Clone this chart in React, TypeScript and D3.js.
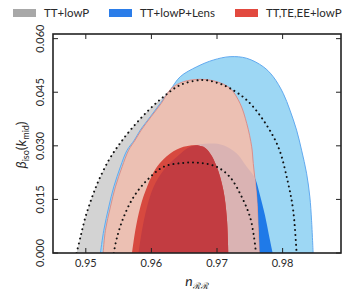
import React, { useEffect, useRef } from "react";
import * as d3 from "d3";

type Pt = [number, number];

// contours: [n_RR, beta_iso]
const ttLowP95: Pt[] = [
  [0.94859, 0], [0.94919, 0.00449], [0.94995, 0.01009], [0.95097, 0.0157],
  [0.95198, 0.02038], [0.9535, 0.02599], [0.95502, 0.03019], [0.95679, 0.0344],
  [0.95933, 0.03953], [0.96185, 0.04373], [0.96439, 0.04701], [0.96769, 0.04842],
  [0.96997, 0.04766], [0.97199, 0.04609], [0.97453, 0.04281], [0.97705, 0.0372],
  [0.97933, 0.02972], [0.98085, 0.01946], [0.98161, 0.01197], [0.98213, 0],
];
const ttLowP68: Pt[] = [
  [0.95426, 0], [0.95477, 0.00449], [0.95578, 0.01009], [0.95729, 0.0157],
  [0.95933, 0.02038], [0.96185, 0.02411], [0.96489, 0.02523], [0.96743, 0.02523],
  [0.96997, 0.02411], [0.97199, 0.02122], [0.97377, 0.0157], [0.97503, 0.01009],
  [0.97564, 0.00449], [0.97594, 0],
];
const lens95: Pt[] = [
  [0.95223, 0], [0.95274, 0.00636], [0.9535, 0.0129], [0.95426, 0.0185],
  [0.95527, 0.02411], [0.95629, 0.02879], [0.9574, 0.0316], [0.95831, 0.0344],
  [0.95983, 0.03813], [0.96135, 0.04188], [0.96287, 0.04561], [0.96439, 0.04934],
  [0.96693, 0.05214], [0.96945, 0.05402], [0.97199, 0.05495], [0.97453, 0.0545],
  [0.97705, 0.05214], [0.97857, 0.04934], [0.98009, 0.04469], [0.98111, 0.04001],
  [0.98213, 0.0344], [0.98289, 0.02879], [0.98365, 0.02234], [0.98415, 0.0157],
  [0.98441, 0.00917], [0.98465, 0],
];
const lens68: Pt[] = [
  [0.95805, 0], [0.95857, 0.00636], [0.95933, 0.0129], [0.96033, 0.0185],
  [0.96185, 0.02318], [0.96389, 0.02691], [0.96591, 0.02972], [0.96895, 0.03067],
  [0.97097, 0.03019], [0.97301, 0.02787], [0.97453, 0.02411], [0.97579, 0.02094],
  [0.97655, 0.01618], [0.97731, 0.01057], [0.97792, 0.00496], [0.97848, 0],
];
const pol95: Pt[] = [
  [0.95264, 0], [0.95299, 0.00636], [0.95375, 0.0129], [0.95451, 0.0185],
  [0.95553, 0.02411], [0.95653, 0.02879], [0.95752, 0.0316], [0.95845, 0.0344],
  [0.95995, 0.03813], [0.9615, 0.04188], [0.963, 0.046], [0.96489, 0.04794],
  [0.96743, 0.04861], [0.96997, 0.04794], [0.97199, 0.04609], [0.97351, 0.04188],
  [0.97453, 0.03628], [0.97529, 0.02972], [0.97553, 0.02506], [0.97605, 0.0157],
  [0.97629, 0.00636], [0.97644, 0],
];
const pol68: Pt[] = [
  [0.95705, 0], [0.95755, 0.00636], [0.95831, 0.0129], [0.95933, 0.0185],
  [0.96085, 0.02411], [0.96287, 0.02787], [0.96489, 0.02972], [0.96667, 0.03019],
  [0.96793, 0.02972], [0.96895, 0.02787], [0.96997, 0.02411], [0.97097, 0.01758],
  [0.97149, 0.01009], [0.97173, 0],
];

const legendNames = ["TT+lowP", "TT+lowP+Lens", "TT,TE,EE+lowP"];
const legendColors = ["#a8a8a8", "#2b7de9", "#e2493f"];
const xTicks = [0.95, 0.96, 0.97, 0.98];
const yTicks = [0, 0.015, 0.03, 0.045, 0.06];

const W = 359,
  H = 298;
const FONT = "Lato, 'Open Sans', sans-serif";
const INK = "#2a2a2a";

const App = () => {
  const ref = useRef<SVGSVGElement>(null);

  useEffect(() => {
    const svg = d3.select(ref.current);
    svg.selectAll("*").remove();

    const x = d3.scaleLinear().domain([0.945, 0.9889]).range([53, 341]);
    const y = d3.scaleLinear().domain([0, 0.0613]).range([253, 34]);

    const curve = d3
      .line<Pt>()
      .x((d) => x(d[0]))
      .y((d) => y(d[1]))
      .curve(d3.curveCatmullRom.alpha(0.5));
    const closed = (pts: Pt[]) => curve(pts) + "Z";

    const defs = svg.append("defs");
    defs
      .append("clipPath")
      .attr("id", "plotArea")
      .append("rect")
      .attr("x", 53)
      .attr("y", 34)
      .attr("width", 288)
      .attr("height", 219);
    defs.append("clipPath").attr("id", "lens68clip").append("path").attr("d", closed(lens68));

    const g = svg.append("g").attr("clip-path", "url(#plotArea)");

    // TT+lowP
    g.append("path").attr("d", closed(ttLowP95)).attr("fill", "#d3d3d3");
    g.append("path").attr("d", closed(ttLowP68)).attr("fill", "#a9a9a9");

    // TT+lowP+Lens
    g.append("path")
      .attr("d", closed(lens95))
      .attr("fill", "#9dd7f4")
      .attr("stroke", "#62aaf0")
      .attr("stroke-width", 1);
    g.append("path").attr("d", closed(lens68)).attr("fill", "#1f7ae8");

    // TT,TE,EE+lowP (see-through look done with clipped overlaps)
    g.append("path")
      .attr("d", closed(pol95))
      .attr("fill", "#ecc0b3")
      .attr("stroke", "#d98f8c")
      .attr("stroke-width", 1);
    g.append("path")
      .attr("d", closed(pol95))
      .attr("clip-path", "url(#lens68clip)")
      .attr("fill", "#dab3b3");
    g.append("path").attr("d", closed(pol68)).attr("fill", "#d7493f");
    g.append("path")
      .attr("d", closed(pol68))
      .attr("clip-path", "url(#lens68clip)")
      .attr("fill", "#c23c41");

    // dotted outlines
    [ttLowP95, ttLowP68].forEach((pts) => {
      g.append("path")
        .attr("d", curve(pts))
        .attr("fill", "none")
        .attr("stroke", "#111")
        .attr("stroke-width", 2)
        .attr("stroke-linecap", "round")
        .attr("stroke-dasharray", "0.01 4.9");
    });

    // frame and inward ticks
    svg
      .append("rect")
      .attr("x", 53)
      .attr("y", 34)
      .attr("width", 288)
      .attr("height", 219)
      .attr("fill", "none")
      .attr("stroke", "#222")
      .attr("stroke-width", 1.6);

    const ticks = svg.append("g").attr("stroke", "#222").attr("stroke-width", 1);
    xTicks.forEach((t) => {
      ticks.append("line").attr("x1", x(t)).attr("x2", x(t)).attr("y1", 253).attr("y2", 248);
      ticks.append("line").attr("x1", x(t)).attr("x2", x(t)).attr("y1", 34).attr("y2", 39);
    });
    yTicks.forEach((t) => {
      ticks.append("line").attr("x1", 53).attr("x2", 58).attr("y1", y(t)).attr("y2", y(t));
      ticks.append("line").attr("x1", 341).attr("x2", 336).attr("y1", y(t)).attr("y2", y(t));
    });

    const fmtX = d3.format(".2f");
    const fmtY = d3.format(".3f");
    svg
      .append("g")
      .selectAll("text")
      .data(xTicks)
      .enter()
      .append("text")
      .attr("x", (d) => x(d))
      .attr("y", 267)
      .attr("text-anchor", "middle")
      .attr("font-family", FONT)
      .attr("font-size", 11)
      .attr("fill", INK)
      .text((d) => fmtX(d));

    svg
      .append("g")
      .selectAll("text")
      .data(yTicks)
      .enter()
      .append("text")
      .attr("transform", (d) => `translate(44,${y(d)}) rotate(-90)`)
      .attr("text-anchor", "middle")
      .attr("font-family", FONT)
      .attr("font-size", 11)
      .attr("fill", INK)
      .text((d) => fmtY(d));

    // axis labels
    const xl = svg
      .append("text")
      .attr("x", 197)
      .attr("y", 286)
      .attr("text-anchor", "middle")
      .attr("font-family", FONT)
      .attr("fill", INK);
    xl.append("tspan").attr("font-style", "italic").attr("font-size", 14).text("n");
    xl.append("tspan").attr("font-size", 9).attr("dy", 3).text("ℛℛ");

    const yl = svg
      .append("text")
      .attr("transform", "translate(26,145) rotate(-90)")
      .attr("text-anchor", "middle")
      .attr("font-family", FONT)
      .attr("fill", INK);
    yl.append("tspan").attr("font-style", "italic").attr("font-size", 14).text("β");
    yl.append("tspan").attr("font-size", 9).attr("dy", 3).text("iso");
    yl.append("tspan").attr("font-size", 14).attr("dy", -3).text("(");
    yl.append("tspan").attr("font-style", "italic").attr("font-size", 14).text("k");
    yl.append("tspan").attr("font-size", 9).attr("dy", 3).text("mid");
    yl.append("tspan").attr("font-size", 14).attr("dy", -3).text(")");

    // legend
    const legendX = [13, 109, 235];
    const lg = svg.append("g");
    legendNames.forEach((name, i) => {
      lg.append("rect")
        .attr("x", legendX[i])
        .attr("y", 9)
        .attr("width", 23)
        .attr("height", 8)
        .attr("fill", legendColors[i]);
      lg.append("text")
        .attr("x", legendX[i] + 31)
        .attr("y", 17)
        .attr("font-family", FONT)
        .attr("font-size", 11.5)
        .attr("fill", INK)
        .text(name);
    });
  }, []);

  return (
    <svg
      ref={ref}
      width={W}
      height={H}
      style={{ position: "absolute", left: 0, top: 0, background: "#fff" }}
    />
  );
};

export default App;
